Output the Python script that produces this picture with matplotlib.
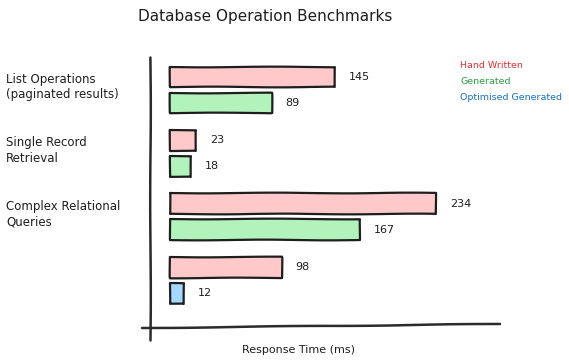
import matplotlib
matplotlib.use("Agg")
import matplotlib.pyplot as plt
import matplotlib.transforms as mtransforms

# data
categories = ["List Operations\n(paginated results)", "Single Record\nRetrieval",
              "Complex Relational\nQueries", ""]
hand_written = [145, 23, 234, 98]
generated = [89, 18, 167, None]
optimised = [None, None, None, 12]
series_names = ["Hand Written", "Generated", "Optimised Generated"]

fill_cols = ["#ffc9c9", "#b2f2bb", "#a5d8ff"]
text_cols = ["#e03131", "#2f9e44", "#1971c2"]
ink = "#1e1e1e"

plt.rcParams["font.family"] = ["DejaVu Sans"]

fig = plt.figure(figsize=(5.69, 3.63), dpi=100)
W, H = 569, 363
# axes box in pixels: left 150, right 500, top 57, bottom 328
ax = fig.add_axes([150 / W, 1 - 328 / H, 350 / W, 271 / H])
ax.set_xlim(-17.9, 290)
ax.set_ylim(3.75, -0.52)
for s in ax.spines.values():
    s.set_visible(False)
ax.set_xticks([])
ax.set_yticks([])

off = 0.205
h = 0.33
for i in range(len(categories)):
    # first bar of the pair is always hand written
    second = generated[i] if generated[i] is not None else optimised[i]
    second_col = fill_cols[1] if generated[i] is not None else fill_cols[2]
    pairs = [(hand_written[i], fill_cols[0], i - off), (second, second_col, i + off)]
    for val, col, y in pairs:
        bars = ax.barh(y, val, height=h, color=col, edgecolor=ink, linewidth=1.6)
        for b in bars:
            b.set_joinstyle("round")
            b.set_sketch_params(scale=0.35, length=150, randomness=2)
        ax.annotate(str(val), (val, y), xytext=(10, 0), textcoords="offset points",
                    va="center", ha="left", fontsize=8, color=ink)

# hand-drawn axis lines
lw = dict(color="#2b2b2b", linewidth=1.8, clip_on=False, solid_capstyle="round")
l1, = ax.plot([0, 0], [-12 / 271, 1], transform=ax.transAxes, **lw)
l2, = ax.plot([-8 / 350, 1], [0, 4 / 271], transform=ax.transAxes, **lw)
for ln in (l1, l2):
    ln.set_sketch_params(scale=0.3, length=200, randomness=2)

# category labels on the left
trans = mtransforms.blended_transform_factory(fig.transFigure, ax.transData)
for i, cat in enumerate(categories):
    ax.text(6 / W, i - 0.05, cat, transform=trans, ha="left", va="center",
            fontsize=8.5, color=ink, linespacing=1.25)

# legend as coloured text
for k, name in enumerate(series_names):
    fig.text(460 / W, 1 - (66 + 16 * k) / H, name, ha="left", va="center",
             fontsize=6.8, color=text_cols[k])

fig.text(265 / W, 1 - 16 / H, "Database Operation Benchmarks", ha="center",
         va="center", fontsize=11, color=ink)
fig.text(298 / W, 1 - 350 / H, "Response Time (ms)", ha="center", va="center",
         fontsize=8, color=ink)

fig.savefig("out.png", dpi=100, facecolor="white")
